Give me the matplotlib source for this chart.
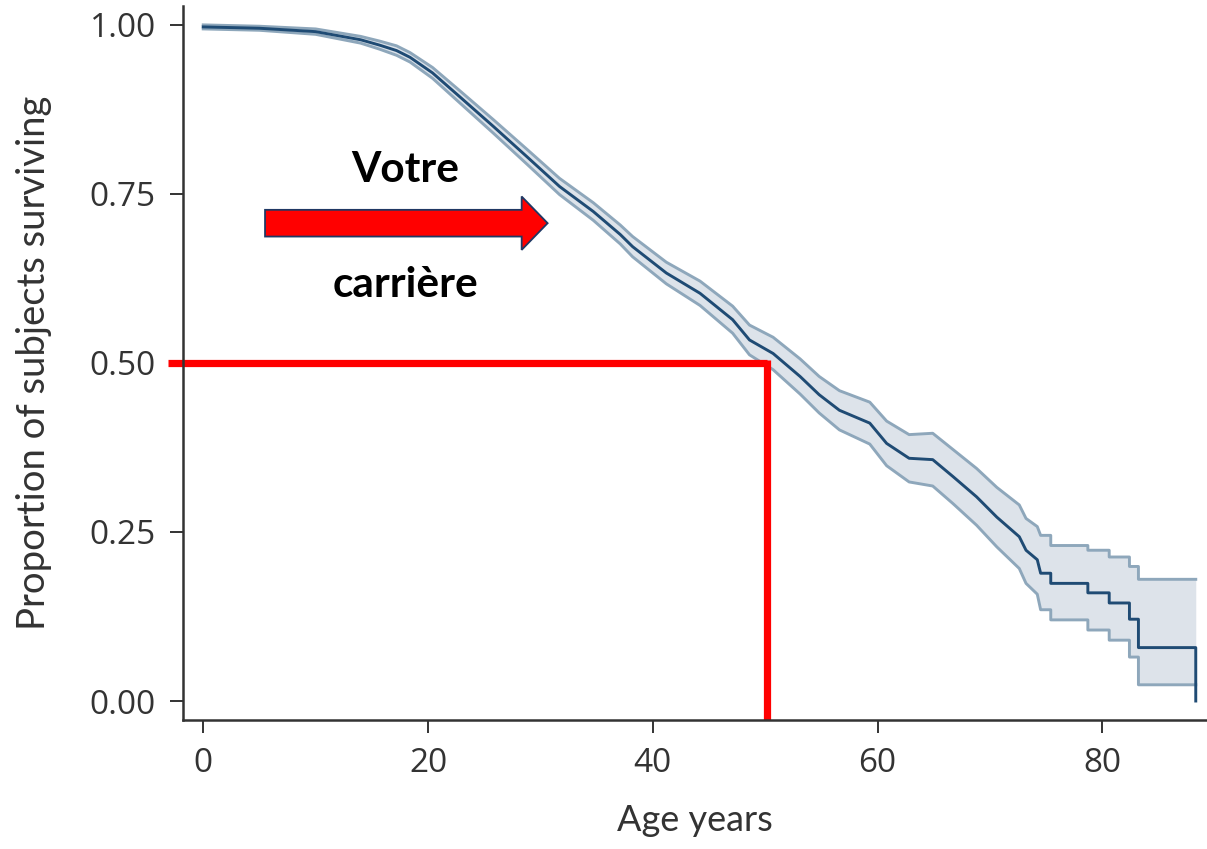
import numpy as np
import matplotlib.pyplot as plt
from matplotlib.patches import FancyArrow

# Kaplan-Meier estimate (age in years, survival, 95% CI)
age = [0, 5, 10, 14, 15.7, 17.2, 18.4, 20.4, 22.8, 25.8, 28.8, 31.7, 34.7, 37.1,
       38.2, 41.2, 44.2, 47.1, 48.6, 50.7, 53.1, 54.8, 56.6, 59.3, 60.8, 62.8,
       64.9, 66.7, 68.8, 70.6, 72.6, 73.2, 74.2, 74.5, 75.4, 75.4, 78.7, 78.7,
       80.6, 80.6, 82.4, 82.4, 83.2, 83.2, 88.3, 88.3]
surv = [0.997, 0.995, 0.990, 0.978, 0.970, 0.962, 0.952, 0.929, 0.894, 0.850,
        0.805, 0.761, 0.724, 0.690, 0.672, 0.633, 0.603, 0.564, 0.534, 0.514,
        0.480, 0.453, 0.430, 0.411, 0.381, 0.359, 0.357, 0.332, 0.302, 0.272,
        0.243, 0.223, 0.209, 0.189, 0.189, 0.174, 0.174, 0.160, 0.160, 0.145,
        0.145, 0.121, 0.121, 0.079, 0.079, 0.0]
ci_low = [0.994, 0.992, 0.986, 0.973, 0.964, 0.955, 0.945, 0.921, 0.885, 0.840,
          0.794, 0.749, 0.711, 0.676, 0.657, 0.617, 0.585, 0.544, 0.512, 0.490,
          0.454, 0.426, 0.401, 0.380, 0.348, 0.324, 0.318, 0.292, 0.260, 0.228,
          0.196, 0.174, 0.158, 0.135, 0.135, 0.120, 0.120, 0.105, 0.105, 0.090,
          0.090, 0.065, 0.065, 0.024, 0.024, 0.024]
ci_high = [1.0, 0.998, 0.994, 0.983, 0.976, 0.969, 0.959, 0.937, 0.903, 0.860,
           0.816, 0.773, 0.737, 0.704, 0.687, 0.649, 0.621, 0.584, 0.556, 0.538,
           0.506, 0.480, 0.459, 0.442, 0.414, 0.394, 0.396, 0.372, 0.344, 0.316,
           0.290, 0.270, 0.258, 0.245, 0.245, 0.230, 0.230, 0.223, 0.223, 0.213,
           0.213, 0.199, 0.199, 0.180, 0.180, 0.180]

x_ticks = [0, 20, 40, 60, 80]
y_ticks = [0.0, 0.25, 0.50, 0.75, 1.0]
y_ticklabels = ["0.00", "0.25", "0.50", "0.75", "1.00"]

median_age = 50.2
median_level = 0.5

GREY = "#333333"
LINE = "#1f4b74"
BAND = "#dde3ea"
BAND_EDGE = "#8ea7bb"

fig = plt.figure(figsize=(12.07, 8.49), dpi=100)
ax = fig.add_axes([0.1516, 0.152, 0.8484, 0.841])

ax.fill_between(age, ci_low, ci_high, color=BAND, lw=0)
ax.plot(age, ci_low, color=BAND_EDGE, lw=2.1)
ax.plot(age, ci_high, color=BAND_EDGE, lw=2.1)
ax.plot(age, surv, color=LINE, lw=2.1)

ax.set_xlim(-1.8, 89.3)
ax.set_ylim(-0.028, 1.028)

for s in ["top", "right"]:
    ax.spines[s].set_visible(False)
for s in ["left", "bottom"]:
    ax.spines[s].set_color(GREY)
    ax.spines[s].set_linewidth(1.8)

ax.set_xticks(x_ticks)
ax.set_yticks(y_ticks)
ax.set_yticklabels(y_ticklabels)
ax.tick_params(length=9.5, width=1.4, color=GREY, labelcolor=GREY, labelsize=24)
ax.tick_params(axis="x", pad=10)
ax.tick_params(axis="y", pad=10)
for lab in ax.get_xticklabels() + ax.get_yticklabels():
    lab.set_fontfamily("Open Sans")

ax.set_xlabel("Age years", fontsize=26, color=GREY, family="Lato")
ax.set_ylabel("Proportion of subjects surviving", fontsize=27.5, color=GREY, family="Lato")
ax.xaxis.set_label_coords(0.5, -0.118)
ax.yaxis.set_label_coords(-0.128, 0.5)

# red median lines
ax.plot([-3.1, median_age], [median_level, median_level], color="red", lw=5.2,
        clip_on=False, solid_capstyle="butt")
ax.plot([median_age, median_age], [median_level + 0.005, -0.028], color="red", lw=5.2,
        clip_on=False, solid_capstyle="butt")

# arrow + text
arr = FancyArrow(5.5, 0.7067, 25.14, 0, width=0.0395, head_width=0.079,
                 head_length=2.31, length_includes_head=True,
                 facecolor="red", edgecolor="#1f3864", lw=1.3)
ax.add_patch(arr)
ax.text(17.96, 0.768, "Votre", fontsize=30.5, fontweight="bold", family="Lato",
        ha="center", va="baseline", color="black")
ax.text(17.96, 0.598, "carrière", fontsize=30.5, fontweight="bold", family="Lato",
        ha="center", va="baseline", color="black")

fig.savefig("out.png", dpi=100)
